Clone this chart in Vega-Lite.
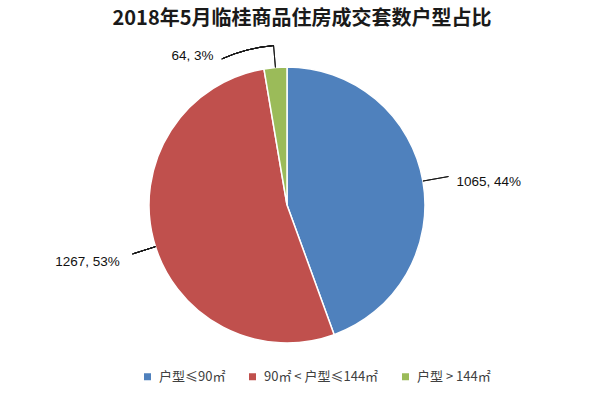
{
  "$schema": "https://vega.github.io/schema/vega-lite/v6.json",
  "width": 574,
  "height": 330,
  "autosize": "none",
  "padding": {"top": 40, "left": 0, "right": 30, "bottom": 34},
  "background": "white",
  "title": {
    "text": "2018年5月临桂商品住房成交套数户型占比",
    "fontSize": 20,
    "font": "Noto Sans CJK SC",
    "fontWeight": "bold",
    "color": "#1a1a1a",
    "anchor": "middle",
    "dx": 15,
    "offset": 5
  },
  "data": {
    "values": [
      {"type": "户型≤90㎡", "count": 1065, "order": 1, "label": "1065, 44%"},
      {"type": "90㎡ < 户型≤144㎡", "count": 1267, "order": 2, "label": "1267, 53%"},
      {"type": "户型 > 144㎡", "count": 64, "order": 3, "label": "64, 3%"}
    ]
  },
  "config": {"view": {"stroke": null}},
  "layer": [
    {
      "mark": {"type": "arc", "outerRadius": 138, "stroke": "white", "strokeWidth": 1.5},
      "encoding": {
        "theta": {"field": "count", "type": "quantitative", "stack": true},
        "order": {"field": "order", "type": "quantitative"},
        "color": {
          "field": "type",
          "type": "nominal",
          "sort": null,
          "scale": {
            "domain": ["户型≤90㎡", "90㎡ < 户型≤144㎡", "户型 > 144㎡"],
            "range": ["#4F81BD", "#C0504D", "#9BBB59"]
          },
          "legend": {
            "orient": "none",
            "legendX": 141,
            "legendY": 330,
            "direction": "horizontal",
            "title": null,
            "padding": 0,
            "symbolType": "square",
            "symbolSize": 49,
            "symbolStrokeWidth": 0,
            "labelFontSize": 13,
            "labelFont": "Noto Sans CJK SC",
            "labelColor": "#404040",
            "columnPadding": 20,
            "labelOffset": 5
          }
        }
      }
    },
    {
      "mark": {"type": "arc", "filled": false, "color": "#1a1a1a", "strokeWidth": 1, "radius": 164, "radius2": 138, "padAngle": 3},
      "encoding": {
        "theta": {"field": "count", "type": "quantitative", "stack": true},
        "order": {"field": "order", "type": "quantitative"},
        "opacity": {"condition": {"test": "datum.order === 1", "value": 1}, "value": 0}
      }
    },
    {
      "mark": {"type": "arc", "filled": false, "color": "#1a1a1a", "strokeWidth": 1, "radius": 160, "radius2": 138, "padAngle": 3},
      "encoding": {
        "theta": {"field": "count", "type": "quantitative", "stack": true},
        "order": {"field": "order", "type": "quantitative"},
        "opacity": {"condition": {"test": "datum.order === 3", "value": 1}, "value": 0}
      }
    },
    {
      "mark": {"type": "arc", "filled": false, "color": "#1a1a1a", "strokeWidth": 1, "radius": 160, "radius2": 160},
      "encoding": {
        "theta": {"datum": 2236, "type": "quantitative"},
        "theta2": {"datum": 2364}
      }
    },
    {
      "mark": {"type": "arc", "filled": false, "color": "#1a1a1a", "strokeWidth": 1, "radius": 162, "radius2": 138},
      "encoding": {
        "theta": {"datum": 1680, "type": "quantitative"},
        "theta2": {"datum": 1680}
      }
    },
    {
      "mark": {"type": "text", "radius": 172, "align": "left", "baseline": "middle", "dy": 7, "fontSize": 13.5, "font": "Liberation Sans", "color": "#111111"},
      "encoding": {
        "theta": {"field": "count", "type": "quantitative", "stack": true},
        "order": {"field": "order", "type": "quantitative"},
        "text": {"field": "label"},
        "opacity": {"condition": {"test": "datum.order === 1", "value": 1}, "value": 0}
      }
    },
    {
      "mark": {"type": "text", "radius": 173, "align": "right", "baseline": "middle", "dy": 13, "fontSize": 13.5, "font": "Liberation Sans", "color": "#111111"},
      "encoding": {
        "theta": {"field": "count", "type": "quantitative", "stack": true},
        "order": {"field": "order", "type": "quantitative"},
        "text": {"field": "label"},
        "opacity": {"condition": {"test": "datum.order === 2", "value": 1}, "value": 0}
      }
    },
    {
      "mark": {"type": "text", "radius": 150, "align": "right", "baseline": "middle", "dx": -61, "fontSize": 13.5, "font": "Liberation Sans", "color": "#111111"},
      "encoding": {
        "theta": {"field": "count", "type": "quantitative", "stack": true},
        "order": {"field": "order", "type": "quantitative"},
        "text": {"field": "label"},
        "opacity": {"condition": {"test": "datum.order === 3", "value": 1}, "value": 0}
      }
    }
  ]
}
